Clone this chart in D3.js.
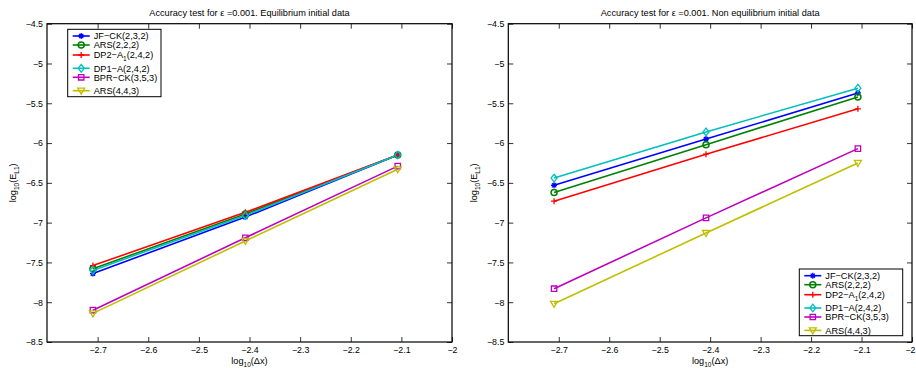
<!DOCTYPE html>
<html><head><meta charset="utf-8">
<script src="https://cdn.jsdelivr.net/npm/d3@7"></script>
<style>
body{margin:0;background:#fff;}
svg{display:block;font-family:"Liberation Sans",Arial,Helvetica,sans-serif;}
</style></head>
<body><svg id="c" width="916" height="368"></svg>
<script>
// ---- data ----
const xValues = [-2.7093, -2.4082, -2.1072]; // log10(dx) for dx = 1/512, 1/256, 1/128
const seriesNames = ["JF\u2212CK(2,3,2)", "ARS(2,2,2)", "DP2\u2212A1(2,4,2)", "DP1\u2212A(2,4,2)", "BPR\u2212CK(3,5,3)", "ARS(4,4,3)"];
const seriesColors = ["#0000ff", "#008000", "#ff0000", "#00bfbf", "#bf00bf", "#bfbf00"];
const seriesMarkers = ["star", "circle", "plus", "diamond", "square", "triangleDown"];
const eqJFCK   = [-7.64, -6.93, -6.15];
const eqARS222 = [-7.58, -6.89, -6.15];
const eqDP2A1  = [-7.54, -6.87, -6.15];
const eqDP1A   = [-7.60, -6.91, -6.15];
const eqBPRCK  = [-8.10, -7.19, -6.29];
const eqARS443 = [-8.14, -7.23, -6.33];
const neJFCK   = [-6.53, -5.95, -5.37];
const neARS222 = [-6.62, -6.02, -5.42];
const neDP2A1  = [-6.73, -6.14, -5.57];
const neDP1A   = [-6.44, -5.86, -5.31];
const neBPRCK  = [-7.83, -6.94, -6.07];
const neARS443 = [-8.02, -7.13, -6.25];
const xTicks = [-2.7, -2.6, -2.5, -2.4, -2.3, -2.2, -2.1, -2];
const yTicks = [-4.5, -5, -5.5, -6, -6.5, -7, -7.5, -8, -8.5];
const titles = ["Accuracy test for \u03b5 =0.001. Equilibrium initial data", "Accuracy test for \u03b5 =0.001. Non equilibrium initial data"];

(function () {
const panels = [
  {left: 47, right: 452, title: titles[0], series: [eqJFCK, eqARS222, eqDP2A1, eqDP1A, eqBPRCK, eqARS443], legend: {x: 67.7, y: 29.3, w: 93.3, h: 67.4}},
  {left: 508.3, right: 912, title: titles[1], series: [neJFCK, neARS222, neDP2A1, neDP1A, neBPRCK, neARS443], legend: {x: 799.3, y: 269, w: 103.4, h: 66.7}}
];
const yTop = 23.7, yBottom = 342;
const svg = d3.select("#c");
const fmt = d => String(+d.toFixed(2)).replace("-", "\u2212");

function marker(g, type, cx, cy, color) {
  const s = 3;
  let p;
  switch (type) {
    case "star": p = `M${cx-s},${cy}L${cx+s},${cy}M${cx},${cy-s}L${cx},${cy+s}M${cx-s*0.7},${cy-s*0.7}L${cx+s*0.7},${cy+s*0.7}M${cx-s*0.7},${cy+s*0.7}L${cx+s*0.7},${cy-s*0.7}`; break;
    case "circle": g.append("circle").attr("cx", cx).attr("cy", cy).attr("r", s).attr("fill", "none").attr("stroke", color).attr("stroke-width", 1.5); return;
    case "plus": p = `M${cx-s},${cy}L${cx+s},${cy}M${cx},${cy-s}L${cx},${cy+s}`; break;
    case "diamond": p = `M${cx},${cy-s-0.8}L${cx+s},${cy}L${cx},${cy+s+0.8}L${cx-s},${cy}Z`; break;
    case "square": p = `M${cx-2.7},${cy-2.7}h5.4v5.4h-5.4Z`; break;
    case "triangleDown": p = `M${cx-s-0.5},${cy-s+0.5}L${cx+s+0.5},${cy-s+0.5}L${cx},${cy+s+0.5}Z`; break;
  }
  g.append("path").attr("d", p).attr("fill", "none").attr("stroke", color).attr("stroke-width", 1.3);
}

panels.forEach(P => {
  const x = d3.scaleLinear().domain([-2.8, -2]).range([P.left, P.right]);
  const y = d3.scaleLinear().domain([-8.5, -4.5]).range([yBottom, yTop]);
  const g = svg.append("g");

  const styleAxis = a => {
    a.select(".domain").remove();
    a.selectAll("line").attr("stroke", "#000").attr("stroke-width", 0.8);
    a.selectAll("text").attr("font-size", "8.8px").attr("fill", "#000").attr("font-family", "Liberation Sans, Arial, sans-serif");
  };
  const bx = g.append("g").attr("transform", `translate(0,${yBottom})`)
    .call(d3.axisBottom(x).tickValues(xTicks).tickSize(-5).tickPadding(5).tickFormat(fmt)).call(styleAxis);
  // keep the last label inside the page
  bx.selectAll(".tick text").filter(d => d === -2 && P.right > 900).attr("text-anchor", "end").attr("dx", 3);
  g.append("g").attr("transform", `translate(0,${yTop})`)
    .call(d3.axisTop(x).tickValues(xTicks).tickSize(-5).tickFormat("")).call(styleAxis);
  g.append("g").attr("transform", `translate(${P.left},0)`)
    .call(d3.axisLeft(y).tickValues(yTicks).tickSize(-5).tickPadding(4).tickFormat(fmt)).call(styleAxis);
  g.append("g").attr("transform", `translate(${P.right},0)`)
    .call(d3.axisRight(y).tickValues(yTicks).tickSize(-5).tickFormat("")).call(styleAxis);
  g.append("rect").attr("x", P.left).attr("y", yTop).attr("width", P.right - P.left).attr("height", yBottom - yTop)
    .attr("fill", "none").attr("stroke", "#000").attr("stroke-width", 1.2);

  g.append("text").attr("x", (P.left + P.right) / 2).attr("y", 16).attr("text-anchor", "middle")
    .attr("font-size", "9.2px").text(P.title);
  const xl = g.append("text").attr("x", (P.left + P.right) / 2).attr("y", 364).attr("text-anchor", "middle").attr("font-size", "9.2px");
  xl.append("tspan").text("log");
  xl.append("tspan").attr("font-size", "6.5px").attr("dy", 2.5).text("10");
  xl.append("tspan").attr("dy", -2.5).text("(\u0394x)");
  const yl = g.append("text").attr("transform", `translate(${P.left - 31},${(yTop + yBottom) / 2}) rotate(-90)`).attr("text-anchor", "middle").attr("font-size", "9.2px");
  yl.append("tspan").text("log");
  yl.append("tspan").attr("font-size", "6.5px").attr("dy", 2.5).text("10");
  yl.append("tspan").attr("dy", -2.5).text("(E");
  yl.append("tspan").attr("font-size", "6.5px").attr("dy", 2.5).text("L1");
  yl.append("tspan").attr("dy", -2.5).text(")");

  const line = d3.line().x((d, i) => x(xValues[i])).y(d => y(d));
  P.series.forEach((vals, k) => {
    g.append("path").attr("d", line(vals)).attr("fill", "none").attr("stroke", seriesColors[k]).attr("stroke-width", 1.6);
  });
  P.series.forEach((vals, k) => {
    vals.forEach((v, i) => marker(g, seriesMarkers[k], x(xValues[i]), y(v), seriesColors[k]));
  });

  const L = P.legend;
  const lg = g.append("g");
  lg.append("rect").attr("x", L.x).attr("y", L.y).attr("width", L.w).attr("height", L.h).attr("fill", "#fff").attr("stroke", "#000").attr("stroke-width", 1);
  const offs = [6.7, 15.7, 25.7, 39, 48, 61.4];
  seriesNames.forEach((name, k) => {
    const cy = L.y + offs[k];
    lg.append("line").attr("x1", L.x + 5).attr("x2", L.x + 22).attr("y1", cy).attr("y2", cy).attr("stroke", seriesColors[k]).attr("stroke-width", 1.6);
    marker(lg, seriesMarkers[k], L.x + 13.5, cy, seriesColors[k]);
    const t = lg.append("text").attr("x", L.x + 26).attr("y", cy + 3.2).attr("font-size", "9.2px");
    if (name.indexOf("A1") >= 0) {
      t.append("tspan").text("DP2\u2212A");
      t.append("tspan").attr("font-size", "6.5px").attr("dy", 3).text("1");
      t.append("tspan").attr("dy", -3).text("(2,4,2)");
    } else {
      t.text(name);
    }
  });
});
})();
</script>
</body></html>
